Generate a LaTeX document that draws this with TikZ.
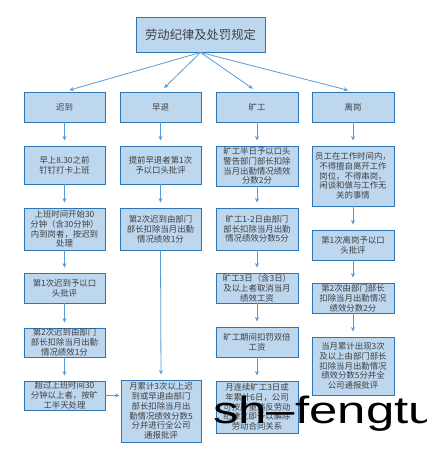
\documentclass[tikz,border=0pt]{standalone}
\usepackage{fontspec}
\usepackage{graphicx}
\newfontfamily\cjk{Noto Sans CJK SC}
\setsansfont{Liberation Sans}
\usetikzlibrary{arrows.meta}
\definecolor{boxfill}{HTML}{BDD7EE}
\definecolor{boxline}{HTML}{2E75B6}
\definecolor{arrline}{HTML}{5B9BD5}
\definecolor{txt}{HTML}{404040}
\tikzset{
  bx/.style={draw=boxline, fill=boxfill, line width=0.9pt, inner sep=0pt, align=center,
    text=txt, font=\cjk\fontsize{8.4}{9.8}\selectfont},
  w81/.style={minimum width=81pt, text width=80pt},
  w82/.style={minimum width=82pt, text width=81pt},
  arr/.style={draw=arrline, line width=0.8pt, -{Stealth[length=4.5pt,width=4pt]}, shorten >=5pt},
  arrh/.style={draw=arrline, line width=0.8pt, -{Stealth[length=4.5pt,width=4pt]}, shorten >=1pt},
}
\begin{document}
\begin{tikzpicture}[x=1pt,y=-1pt]
\useasboundingbox (0,0) rectangle (426,457);
\fill[white] (0,0) rectangle (426,457);
% title
\node[bx, minimum width=129pt, minimum height=35pt, font=\cjk\fontsize{12.3}{14}\selectfont] (title) at (200.5,34.5) {劳动纪律及处罚规定};
% column 1
\node[bx,w81,minimum height=30pt] (a1) at (64.5,107) {迟到};
\node[bx,w81,minimum height=38pt] (a2) at (64.5,165) {早上8.30之前\\钉钉打卡上班};
\node[bx,w81,minimum height=42pt] (a3) at (64.5,229) {上班时间开始30\\分钟（含30分钟）\\内到岗者，按迟到\\处理};
\node[bx,w81,minimum height=30pt] (a4) at (64.5,288) {第1次迟到予以口\\头批评};
\node[bx,w81,minimum height=29pt] (a5) at (64.5,342.5) {第2次迟到由部门\\部长扣除当月出勤\\情况绩效1分};
\node[bx,w81,minimum height=29pt] (a6) at (64.5,395.5) {超过上班时间30\\分钟以上者，按旷\\工半天处理};
% column 2
\node[bx,w81,minimum height=30pt] (b1) at (160.5,107) {早退};
\node[bx,w81,minimum height=38pt] (b2) at (160.5,165) {提前早退者第1次\\予以口头批评};
\node[bx,w81,minimum height=42pt] (b3) at (160.5,229) {第2次迟到由部门\\部长扣除当月出勤\\情况绩效1分};
\node[bx,minimum width=80pt,text width=79pt,minimum height=62pt] (b4) at (161,411) {月累计3次以上迟\\到或早退由部门\\部长扣除当月出\\勤情况绩效分数5\\分并进行全公司\\通报批评};
% column 3
\node[bx,w82,minimum height=30pt] (c1) at (257,107) {旷工};
\node[bx,w82,minimum height=40pt] (c2) at (257,166) {旷工半日予以口头\\警告部门部长扣除\\当月出勤情况绩效\\分数2分};
\node[bx,w82,minimum height=42pt] (c3) at (257,229) {旷工1-2日由部门\\部长扣除当月出勤\\情况绩效分数5分};
\node[bx,w82,minimum height=30pt] (c4) at (257,288) {旷工3日（含3日）\\及以上者取消当月\\绩效工资};
\node[bx,w82,minimum height=30pt] (c5) at (257,342) {旷工期间扣罚双倍\\工资};
\node[bx,w82,minimum height=52pt] (c6) at (257,407) {月连续旷工3日或\\年累计6日，公司\\可按严重违反劳动\\纪律立即予以解除\\劳动合同关系};
% column 4
\node[bx,w82,minimum height=30pt] (d1) at (353,107) {离岗};
\node[bx,w82,minimum height=60pt] (d2) at (353,176) {员工在工作时间内，\\不得擅自离开工作\\岗位，不得串岗，\\闲谈和做与工作无\\关的事情};
\node[bx,w82,minimum height=30pt] (d3) at (353,245) {第1次离岗予以口\\头批评};
\node[bx,w82,minimum height=30pt] (d4) at (353,298) {第2次由部门部长\\扣除当月出勤情况\\绩效分数2分};
\node[bx,w82,minimum height=58pt] (d5) at (353,366) {当月累计出现3次\\及以上由部门部长\\扣除当月出勤情况\\绩效分数5分并全\\公司通报批评};
% connectors from title
\draw[arr] (title.south) -- (a1.north);
\draw[arr] (title.south) -- (b1.north);
\draw[arr] (title.south) -- (c1.north);
\draw[arr] (title.south) -- (d1.north);
% column connectors
\foreach \p/\q in {a1/a2,a2/a3,a3/a4,a4/a5,a5/a6,b1/b2,b2/b3,b3/b4,c1/c2,c2/c3,c3/c4,c4/c5,c5/c6,d1/d2,d2/d3,d3/d4,d4/d5}
  \draw[arr] (\p.south) -- (\q.north);
\draw[arrh] (a6.east) -- (a6.east -| b4.west);
% watermark
\node[anchor=base west, inner sep=0pt, font=\sffamily\fontsize{38}{40}\selectfont, text=black] (wm) at (213,423) {\scalebox{1.34}[1]{sh–fengtu}};
\end{tikzpicture}
\end{document}
